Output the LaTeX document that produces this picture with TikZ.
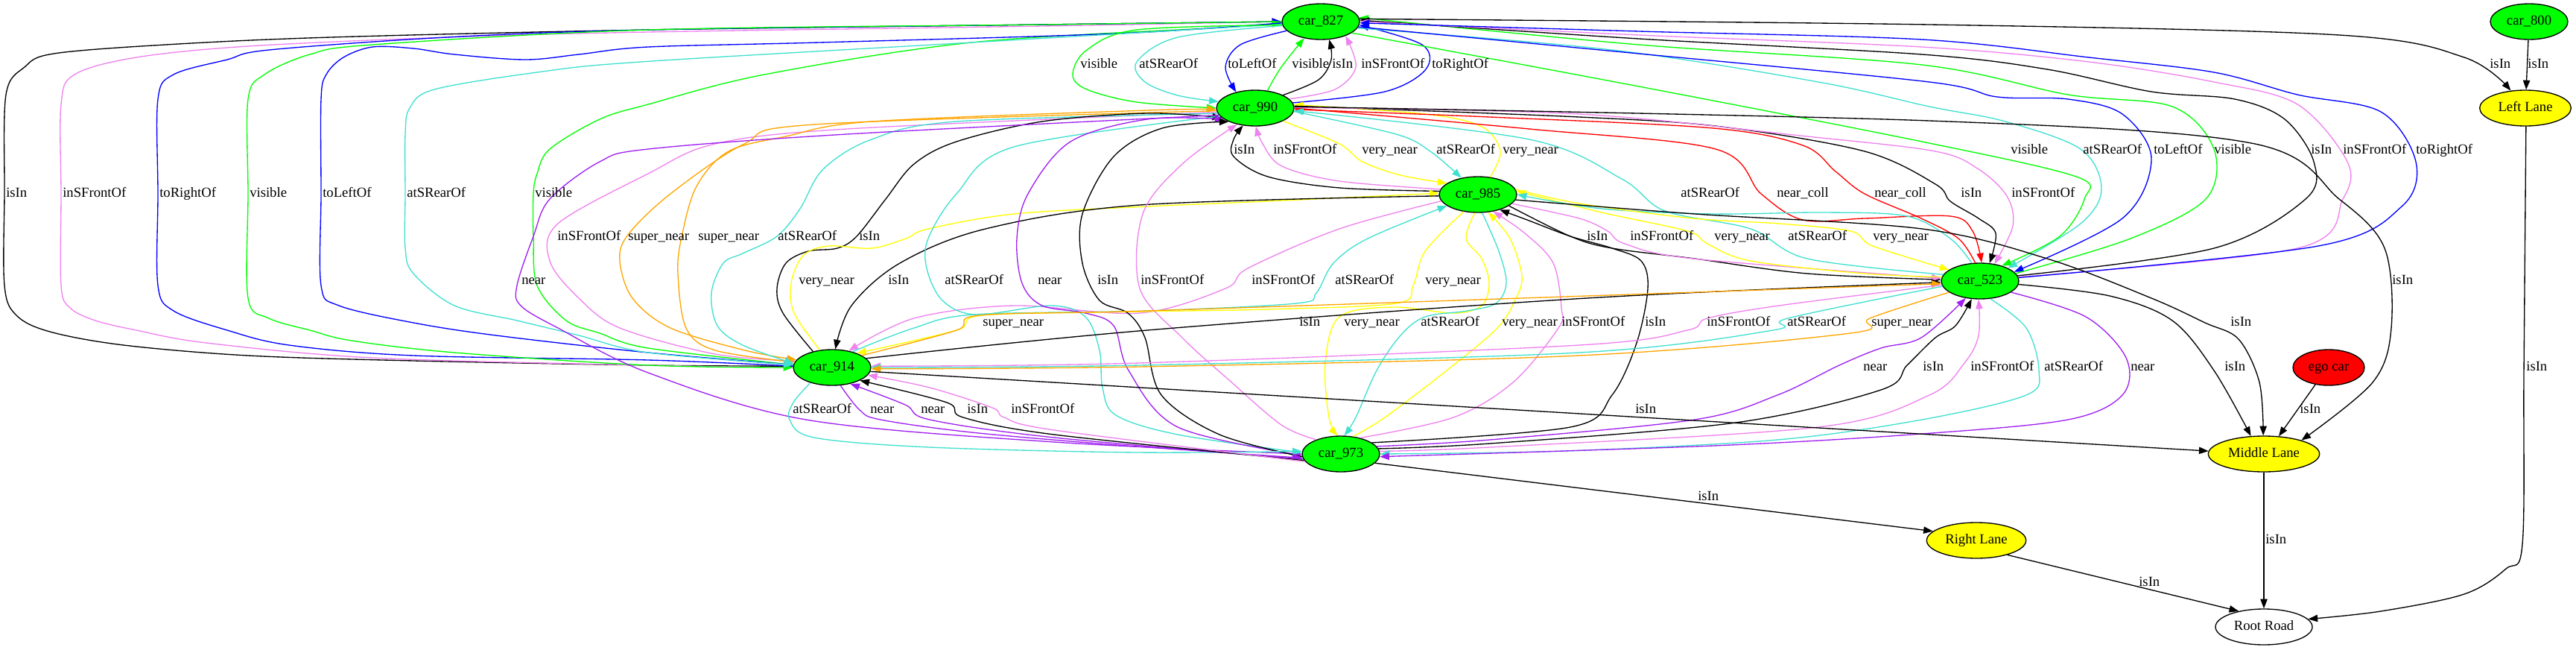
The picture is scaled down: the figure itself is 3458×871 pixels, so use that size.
\documentclass[tikz,border=0pt]{standalone}
\usepackage{fontspec}
\setmainfont{Liberation Serif}
\usetikzlibrary{shapes.geometric,arrows.meta}
\definecolor{gvgreen}{HTML}{00FF00}
\definecolor{gvblue}{HTML}{0000FF}
\definecolor{gvviolet}{HTML}{EE82EE}
\definecolor{gvturq}{HTML}{40E0D0}
\definecolor{gvyellow}{HTML}{FFFF00}
\definecolor{gvorange}{HTML}{FFA500}
\definecolor{gvred}{HTML}{FF0000}
\definecolor{gvpurple}{HTML}{A020F0}
\newcommand\lb[4]{\node[lbl] (#1) at (#2,#3) {#4};}
\begin{document}
\begin{tikzpicture}[x=0.75pt,y=-0.75pt,
  every node/.style={font=\fontsize{14}{16}\selectfont, text height=9.5pt, text depth=3pt},
  nd/.style={ellipse, draw, line width=1pt, inner sep=0pt, minimum height=36pt},
  car/.style={nd, fill=gvgreen, minimum width=78pt},
  lane/.style={nd, fill=gvyellow},
  lbl/.style={anchor=west, inner sep=0pt},
  edg/.style={draw=#1, line width=1pt, -{Triangle[length=9.5pt,width=7pt]}},
  sm/.style={smooth, tension=0.55}]
\useasboundingbox (0,0) rectangle (3458,871);
% nodes
\node[car] (c827) at (1773,29) {car\_827};
\node[car] (c800) at (3395,29) {car\_800};
\node[car] (c990) at (1685,145) {car\_990};
\node[lane, minimum width=92pt] (lleft) at (3390,145) {Left Lane};
\node[car] (c985) at (1984,261) {car\_985};
\node[car] (c523) at (2658,377) {car\_523};
\node[car] (c914) at (1117,493) {car\_914};
\node[nd, fill=gvred, minimum width=72pt] (ego) at (3126,493) {ego car};
\node[car] (c973) at (1800,609) {car\_973};
\node[lane, minimum width=112pt] (lmid) at (3039,609) {Middle Lane};
\node[lane, minimum width=100pt] (lright) at (2653,725) {Right Lane};
\node[nd, fill=white, minimum width=97.5pt] (root) at (3039,841) {Root Road};

% A: car_827 <-> car_914
\draw[edg=black] plot[sm] coordinates {(c914.178) (870,490) (555,484) (333,477) (166,463) (67,445) (22,423) (6,383) (6,260) (8,127) (33,90) (72,72) (222,60) (444,50) (870,40) (1400,33) (c827.180)};
\draw[edg=gvviolet] plot[sm] coordinates {(c914.180) (870,490) (500,480) (277,460) (183,443) (128,430) (94,413) (82,383) (82,260) (82,140) (100,100) (183,77) (333,62) (600,50) (870,43) (1400,35) (c827.180)};
\draw[edg=gvblue] plot[sm] coordinates {(c914.178) (870,483) (555,477) (388,463) (305,443) (233,417) (212,383) (212,260) (212,133) (233,100) (305,80) (361,67) (600,50) (870,40) (1400,33) (c827.180)};
\draw[edg=gvgreen] plot[sm] coordinates {(c914.176) (870,467) (805,447) (760,430) (721,383) (716,317) (716,260) (721,233) (738,200) (805,160) (870,140) (1026,100) (1304,57) (1637,37) (c827.182)};
\draw[edg=gvgreen] plot[sm] coordinates {(c827.180) (1400,33) (870,40) (500,60) (416,73) (355,100) (333,133) (333,260) (333,400) (361,427) (416,443) (472,457) (610,473) (870,490) (c914.180)};
\draw[edg=gvblue] plot[sm] coordinates {(c827.182) (1500,45) (1100,57) (870,63) (777,73) (705,80) (610,73) (555,65) (500,63) (461,77) (438,100) (431,133) (431,260) (431,383) (455,410) (555,433) (666,450) (870,473) (c914.176)};
\draw[edg=gvturq] plot[sm] coordinates {(c827.184) (1304,57) (860,83) (721,97) (583,120) (550,145) (544,180) (544,260) (544,333) (555,367) (610,410) (694,430) (777,450) (870,473) (c914.176)};

% B: car_827 <-> car_990
\draw[edg=gvgreen] plot[sm] coordinates {(c827.185) (1526,40) (1459,67) (1440,100) (1459,120) (1526,137) (c990.180)};
\draw[edg=gvturq] plot[sm] coordinates {(c827.186) (1581,50) (1526,83) (1537,110) (1581,128) (c990.170)};
\draw[edg=gvblue] plot[sm] coordinates {(c827.195) (1665,60) (1645,90) (c990.140)};
\draw[edg=gvgreen] plot[sm] coordinates {(c990.55) (1720,90) (c827.225)};
\draw[edg=black] plot[sm] coordinates {(c990.25) (1770,107) (1787,80) (c827.295)};
\draw[edg=gvviolet] plot[sm] coordinates {(c990.15) (1792,120) (1820,90) (c827.330)};
\draw[edg=gvblue] plot[sm] coordinates {(c990.8) (1859,123) (1914,93) (1909,60) (c827.355)};

% C: car_990 <-> car_985
\draw[edg=black] plot[sm] coordinates {(c985.175) (1798,252) (1702,237) (1656,210) (1656,187) (c990.235)};
\draw[edg=gvviolet] plot[sm] coordinates {(c985.172) (1798,243) (1721,223) (1695,193) (c990.272)};
\draw[edg=gvyellow] plot[sm] coordinates {(c990.335) (1798,193) (1829,217) (1880,235) (c985.160)};
\draw[edg=gvturq] plot[sm] coordinates {(c990.355) (1874,180) (1920,203) (c985.135)};
\draw[edg=gvyellow] plot[sm] coordinates {(c985.55) (2014,203) (1989,170) (1913,153) (c990.5)};

% D: car_827 <-> car_523
\draw[edg=gvgreen] plot[sm] coordinates {(c827.340) (2200,116) (2580,190) (2787,237) (2798,267) (2765,317) (c523.35)};
\draw[edg=gvturq] plot[sm] coordinates {(c827.350) (2164,67) (2441,110) (2590,143) (2692,163) (2793,200) (2821,253) (2793,300) (c523.25)};
\draw[edg=gvblue] plot[sm] coordinates {(c827.352) (2200,72) (2590,110) (2681,130) (2776,133) (2849,153) (2888,213) (2849,293) (c523.15)};
\draw[edg=gvgreen] plot[sm] coordinates {(c523.12) (2860,320) (2961,267) (2972,200) (2916,143) (2776,127) (2580,87) (2200,60) (c827.6)};
\draw[edg=black] plot[sm] coordinates {(c523.8) (2972,333) (3095,267) (3106,217) (3067,160) (3000,133) (2888,123) (2748,93) (2580,73) (2200,52) (c827.2)};
\draw[edg=gvviolet] plot[sm] coordinates {(c523.6) (3084,333) (3145,267) (3151,217) (3084,140) (2972,110) (2804,83) (2580,63) (2200,47) (c827.0)};
\draw[edg=gvblue] plot[sm] coordinates {(c523.5) (3112,330) (3224,277) (3243,217) (3196,150) (3084,127) (2972,97) (2804,77) (2580,53) (2200,42) (c827.358)};

% E: car_990 <-> car_523
\draw[edg=gvred] plot[sm] coordinates {(c990.0) (2053,173) (2303,200) (2364,260) (2420,295) (2503,293) (2618,290) (2648,310) (c523.85)};
\draw[edg=gvred] plot[sm] coordinates {(c523.105) (2629,320) (2579,293) (2503,260) (2464,230) (2420,195) (2300,172) (2000,157) (c990.358)};
\draw[edg=black] plot[sm] coordinates {(c990.3) (2120,157) (2311,170) (2503,203) (2598,247) (2618,270) (2656,293) (2679,313) (c523.62)};
\draw[edg=gvviolet] plot[sm] coordinates {(c990.1) (2120,153) (2426,183) (2598,203) (2656,227) (2694,263) (2702,303) (c523.50)};
\draw[edg=gvturq] plot[sm] coordinates {(c523.170) (2426,347) (2350,307) (2235,283) (2177,240) (2053,187) (c990.356)};

% F: car_985 <-> car_523
\draw[edg=black] plot[sm] coordinates {(c985.340) (2108,317) (2164,333) (2275,347) (2426,367) (c523.178)};
\draw[edg=gvviolet] plot[sm] coordinates {(c985.345) (2120,293) (2158,310) (2181,327) (2273,347) (c523.176)};
\draw[edg=gvyellow] plot[sm] coordinates {(c523.174) (2503,367) (2350,350) (2292,327) (2265,310) (2150,285) (c985.5)};
\draw[edg=gvturq] plot[sm] coordinates {(c523.115) (2618,320) (2560,290) (2450,285) (2300,287) (2150,280) (c985.0)};
\draw[edg=gvyellow] plot[sm] coordinates {(c985.8) (2120,273) (2273,293) (2388,300) (2484,310) (2514,330) (c523.160)};

% G: car_990 <-> car_914
\draw[edg=gvviolet] plot[sm] coordinates {(c990.186) (1137,173) (960,193) (870,233) (749,300) (738,350) (777,400) (832,440) (960,475) (c914.170)};
\draw[edg=gvorange] plot[sm] coordinates {(c990.184) (1093,167) (999,193) (900,260) (843,315) (832,350) (849,400) (900,440) (1000,470) (c914.168)};
\draw[edg=gvorange] plot[sm] coordinates {(c914.172) (960,470) (921,440) (910,367) (915,318) (935,250) (978,203) (1055,183) (1170,163) (1540,148) (c990.182)};
\draw[edg=gvturq] plot[sm] coordinates {(c990.188) (1284,163) (1170,187) (1105,227) (1074,280) (1043,317) (997,340) (971,353) (955,393) (963,437) (997,463) (c914.174)};
\draw[edg=black] plot[sm] coordinates {(c914.140) (1051,420) (1043,387) (1055,353) (1085,337) (1124,333) (1150,317) (1189,267) (1227,220) (1284,190) (1399,163) (1540,152) (c990.196)};

% H: car_985 <-> car_914
\draw[edg=gvyellow] plot[sm] coordinates {(c914.125) (1066,420) (1062,380) (1078,343) (1112,330) (1170,333) (1216,320) (1246,307) (1361,287) (1540,277) (1700,270) (c985.178)};
\draw[edg=black] plot[sm] coordinates {(c985.182) (1530,275) (1323,307) (1208,353) (1143,410) (c914.80)};
\draw[edg=gvviolet] plot[sm] coordinates {(c985.190) (1798,307) (1675,360) (1645,387) (1530,420) (1361,410) (1227,427) (c914.45)};
\draw[edg=gvturq] plot[sm] coordinates {(c914.38) (1227,440) (1307,422) (1540,417) (1740,407) (1767,393) (1790,353) (1836,320) (c985.200)};
\draw[edg=gvyellow] plot[sm] coordinates {(c985.230) (1913,337) (1897,383) (1874,407) (1700,415) (1530,418) (1319,423) (1284,443) (c914.30)};

% I: car_990 <-> car_973
\draw[edg=gvpurple] plot[sm] coordinates {(c990.191) (1137,180) (870,200) (805,217) (738,267) (716,317) (694,383) (699,410) (749,440) (870,500) (1082,563) (1415,593) (c973.180)};
\draw[edg=gvturq] plot[sm] coordinates {(c990.193) (1361,197) (1284,260) (1246,320) (1244,360) (1265,403) (1310,422) (1411,410) (1457,425) (1476,470) (1480,520) (1498,557) (1581,583) (c973.178)};
\draw[edg=gvpurple] plot[sm] coordinates {(c973.182) (1581,573) (1515,497) (1495,437) (1457,420) (1399,410) (1372,380) (1365,320) (1380,260) (1437,190) (1540,160) (c990.200)};
\draw[edg=black] plot[sm] coordinates {(c973.184) (1637,583) (1559,530) (1537,453) (1514,420) (1476,403) (1453,353) (1453,287) (1495,210) (1560,172) (c990.207)};
\draw[edg=gvviolet] plot[sm] coordinates {(c973.150) (1720,570) (1650,510) (1587,453) (1530,387) (1534,287) (1587,220) (c990.222)};

% J: car_985 <-> car_973
\draw[edg=gvyellow] plot[sm] coordinates {(c985.260) (1968,320) (1989,347) (1999,380) (1989,410) (1951,420) (1870,412) (1798,425) (1779,487) (1784,560) (c973.100)};
\draw[edg=gvturq] plot[sm] coordinates {(c985.283) (2012,337) (2022,380) (2008,407) (1970,417) (1913,425) (1880,450) (1848,497) (1820,560) (c973.80)};
\draw[edg=gvyellow] plot[sm] coordinates {(c973.55) (1859,560) (1942,497) (2010,440) (2035,400) (2043,370) (2027,320) (c985.300)};
\draw[edg=gvviolet] plot[sm] coordinates {(c973.40) (1951,560) (2031,513) (2092,440) (2096,413) (2085,353) (2047,313) (c985.312)};
\draw[edg=black] plot[sm] coordinates {(c973.20) (2108,573) (2164,530) (2197,460) (2212,387) (2203,350) (2164,333) (2108,317) (2050,295) (c985.325)};

% K: car_914 <-> car_523
\draw[edg=black] plot[sm] coordinates {(c914.15) (1540,443) (2130,400) (c523.182)};
\draw[edg=gvorange] plot[sm] coordinates {(c914.22) (1284,443) (1315,423) (1540,417) (2130,397) (c523.184)};
\draw[edg=gvviolet] plot[sm] coordinates {(c523.186) (2388,410) (2292,427) (2265,443) (2120,463) (1530,487) (c914.2)};
\draw[edg=gvturq] plot[sm] coordinates {(c523.188) (2400,427) (2380,443) (2120,473) (1530,490) (c914.0)};
\draw[edg=gvorange] plot[sm] coordinates {(c523.200) (2510,427) (2484,447) (2120,477) (1530,492) (c914.358)};

% L: car_523 <-> car_973
\draw[edg=gvpurple] plot[sm] coordinates {(c973.12) (2000,590) (2275,563) (2386,530) (2469,490) (2525,467) (2579,453) (c523.230)};
\draw[edg=black] plot[sm] coordinates {(c973.8) (2000,595) (2330,567) (2525,523) (2560,490) (2598,453) (2625,437) (c523.245)};
\draw[edg=gvviolet] plot[sm] coordinates {(c973.4) (2000,600) (2441,573) (2590,530) (2637,487) (2656,450) (c523.265)};
\draw[edg=gvturq] plot[sm] coordinates {(c523.300) (2720,440) (2737,497) (2720,530) (2580,563) (2386,590) (2100,605) (c973.0)};
\draw[edg=gvpurple] plot[sm] coordinates {(c523.340) (2800,425) (2854,480) (2849,530) (2776,563) (2580,582) (2300,598) (c973.356)};

% M: car_914 <-> car_973
\draw[edg=gvturq] plot[sm] coordinates {(c914.215) (1065,540) (1060,563) (1093,587) (1248,600) (1526,607) (c973.176)};
\draw[edg=gvpurple] plot[sm] coordinates {(c914.295) (1154,550) (1182,563) (1304,580) (1500,597) (c973.186)};
\draw[edg=gvpurple] plot[sm] coordinates {(c973.188) (1415,587) (1248,563) (1215,543) (c914.318)};
\draw[edg=black] plot[sm] coordinates {(c973.190) (1415,583) (1293,560) (1271,540) (c914.335)};
\draw[edg=gvviolet] plot[sm] coordinates {(c973.192) (1415,577) (1348,560) (1332,547) (1248,520) (c914.348)};

% N: lanes and road
\draw[edg=black] (c914.354) -- (lmid.177);
\draw[edg=black] (c973.345) -- (lright.168);
\draw[edg=black] (lright.335) -- (root.148);
\draw[edg=black] (lmid) -- (root);
\draw[edg=black] plot[sm] coordinates {(lleft.272) (3388,500) (3386,730) (3364,763) (3308,797) (3196,820) (root.10)};
\draw[edg=black] (ego.232) -- (lmid.50);
\draw[edg=black] plot[sm] coordinates {(c523.355) (2832,397) (2916,430) (2972,497) (lmid.126)};
\draw[edg=black] plot[sm] coordinates {(c985.352) (2275,287) (2580,307) (2748,347) (2888,400) (2960,433) (3005,455) (3033,513) (lmid.92)};
\draw[edg=black] plot[sm] coordinates {(c990.2) (2590,162) (3022,192) (3140,267) (3201,333) (3210,440) (3185,513) (lmid.20)};
\draw[edg=black] plot[sm] coordinates {(c827.4) (2590,33) (3140,47) (3308,77) (lleft.130)};
\draw[edg=black] (c800) -- (lleft);

% labels
\lb{l1}{1450}{87}{visible}
\lb{l2}{1529}{87}{atSRearOf}
\lb{l3}{1648}{87}{toLeftOf}
\lb{l4}{1734}{87}{visible}
\lb{l5}{1788}{87}{isIn}
\lb{l6}{1827}{87}{inSFrontOf}
\lb{l7}{1922}{87}{toRightOf}
\lb{l8}{3342}{87}{isIn}
\lb{l9}{3393}{87}{isIn}
\lb{l10}{1656}{202}{isIn}
\lb{l11}{1709}{202}{inSFrontOf}
\lb{l12}{1828}{202}{very\_near}
\lb{l13}{1928}{202}{atSRearOf}
\lb{l14}{2017}{202}{very\_near}
\lb{l15}{2699}{202}{visible}
\lb{l16}{2796}{202}{atSRearOf}
\lb{l17}{2891}{202}{toLeftOf}
\lb{l18}{2972}{202}{visible}
\lb{l19}{3102}{202}{isIn}
\lb{l20}{3145}{202}{inSFrontOf}
\lb{l21}{3243}{202}{toRightOf}
\lb{l22}{8}{260}{isIn}
\lb{l23}{84}{260}{inSFrontOf}
\lb{l24}{214}{260}{toRightOf}
\lb{l25}{335}{260}{visible}
\lb{l26}{433}{260}{toLeftOf}
\lb{l27}{546}{260}{atSRearOf}
\lb{l28}{718}{260}{visible}
\lb{l29}{2256}{260}{atSRearOf}
\lb{l30}{2385}{260}{near\_coll}
\lb{l31}{2516}{260}{near\_coll}
\lb{l32}{2632}{260}{isIn}
\lb{l33}{2700}{260}{inSFrontOf}
\lb{l34}{748}{318}{inSFrontOf}
\lb{l35}{843}{318}{super\_near}
\lb{l36}{937}{318}{super\_near}
\lb{l37}{1044}{318}{atSRearOf}
\lb{l38}{1153}{318}{isIn}
\lb{l39}{2130}{318}{isIn}
\lb{l40}{2188}{318}{inSFrontOf}
\lb{l41}{2301}{318}{very\_near}
\lb{l42}{2400}{318}{atSRearOf}
\lb{l43}{2514}{318}{very\_near}
\lb{l44}{700}{377}{near}
\lb{l45}{1072}{377}{very\_near}
\lb{l46}{1192}{377}{isIn}
\lb{l47}{1268}{377}{atSRearOf}
\lb{l48}{1393}{377}{near}
\lb{l49}{1473}{377}{isIn}
\lb{l50}{1531}{377}{inSFrontOf}
\lb{l51}{1680}{377}{inSFrontOf}
\lb{l52}{1792}{377}{atSRearOf}
\lb{l53}{1913}{377}{very\_near}
\lb{l54}{3211}{377}{isIn}
\lb{l55}{1319}{433}{super\_near}
\lb{l56}{1744}{433}{isIn}
\lb{l57}{1804}{433}{very\_near}
\lb{l58}{1907}{433}{atSRearOf}
\lb{l59}{2016}{433}{very\_near}
\lb{l60}{2096}{433}{inSFrontOf}
\lb{l61}{2208}{433}{isIn}
\lb{l62}{2291}{433}{inSFrontOf}
\lb{l63}{2399}{433}{atSRearOf}
\lb{l64}{2512}{433}{super\_near}
\lb{l65}{2994}{433}{isIn}
\lb{l66}{2501}{493}{near}
\lb{l67}{2581}{493}{isIn}
\lb{l68}{2645}{493}{inSFrontOf}
\lb{l69}{2744}{493}{atSRearOf}
\lb{l70}{2860}{493}{near}
\lb{l71}{2986}{493}{isIn}
\lb{l72}{3391}{493}{isIn}
\lb{l73}{1064}{550}{atSRearOf}
\lb{l74}{1168}{550}{near}
\lb{l75}{1236}{550}{near}
\lb{l76}{1298}{550}{isIn}
\lb{l77}{1357}{550}{inSFrontOf}
\lb{l78}{2195}{550}{isIn}
\lb{l79}{3087}{550}{isIn}
\lb{l80}{2279}{667}{isIn}
\lb{l81}{3041}{725}{isIn}
\lb{l82}{2871}{782}{isIn}
\end{tikzpicture}
\end{document}
